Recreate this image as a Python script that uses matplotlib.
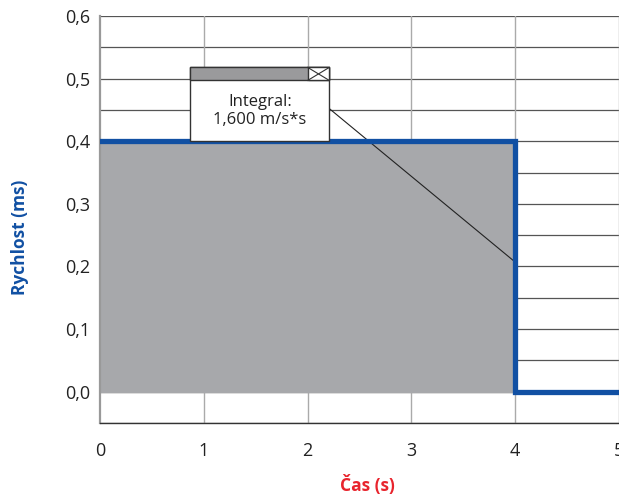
import numpy as np
import matplotlib.pyplot as plt
from matplotlib.patches import Rectangle

# data
cas = [0, 4, 4, 5]
rychlost = [0.4, 0.4, 0.0, 0.0]
plocha_x = [0, 4]
plocha_y = [0.4, 0.4]
x_ticks = [0, 1, 2, 3, 4, 5]
y_ticks = [0.0, 0.1, 0.2, 0.3, 0.4, 0.5, 0.6]
y_labels = ['0,0', '0,1', '0,2', '0,3', '0,4', '0,5', '0,6']
integral_text = 'Integral:\n1,600 m/s*s'

plt.rcParams['font.family'] = ['Open Sans', 'DejaVu Sans']

fig = plt.figure(figsize=(6.19, 4.95), dpi=100)
ax = fig.add_axes([100 / 619, 72 / 495, 519 / 619, 407 / 495])

blue = '#1150a3'
gray = '#a7a8ab'

# mrizka
for y in np.arange(-0.05, 0.601, 0.05):
    ax.axhline(y, color='#555555', lw=0.9, zorder=0)
for x in x_ticks[1:]:
    ax.axvline(x, color='#aaaaaa', lw=1.0, zorder=0)

ax.fill_between(plocha_x, 0, plocha_y, color=gray, zorder=1)
ax.plot(cas, rychlost, color=blue, lw=3.8, solid_joinstyle='miter', zorder=3)

# popisek s integralem
bx0, bx1, by0, by1 = 0.87, 2.21, 0.40, 0.518
ax.add_patch(Rectangle((bx0, by0), bx1 - bx0, by1 - by0, facecolor='white',
                       edgecolor='#333333', lw=1.0, zorder=4))
ax.add_patch(Rectangle((bx0, 0.497), bx1 - bx0, by1 - 0.497, facecolor='#9a9a9c',
                       edgecolor='#333333', lw=1.0, zorder=5))
ax.add_patch(Rectangle((2.0, 0.497), bx1 - 2.0, by1 - 0.497, facecolor='white',
                       edgecolor='#333333', lw=1.0, zorder=6))
ax.plot([2.0, bx1], [0.497, by1], color='#333333', lw=0.8, zorder=7)
ax.plot([2.0, bx1], [by1, 0.497], color='#333333', lw=0.8, zorder=7)
ax.text((bx0 + bx1) / 2, 0.448, integral_text, ha='center', va='center',
        fontsize=12, color='#222222', linespacing=1.2, zorder=7)
ax.plot([bx1, 4.0], [0.452, 0.207], color='#222222', lw=0.8, zorder=2)

ax.set_xlim(0, 5)
ax.set_ylim(-0.05, 0.6)
ax.set_xticks(x_ticks)
ax.set_yticks(y_ticks)
ax.set_yticklabels(y_labels)
ax.tick_params(axis='both', length=0, labelsize=13, colors='#222222')
ax.tick_params(axis='x', pad=14)
ax.tick_params(axis='y', pad=7)

for s in ['top', 'right']:
    ax.spines[s].set_visible(False)
ax.spines['left'].set_color('#999999')
ax.spines['left'].set_linewidth(1.6)
ax.spines['bottom'].set_color('#333333')
ax.spines['bottom'].set_linewidth(1.0)

fig.text(367 / 619, 1 - 485 / 495, 'Čas (s)', color='#e8242d', fontweight='bold',
         fontsize=12.5, ha='center', va='center')
fig.text(20 / 619, 1 - 237 / 495, 'Rychlost (ms)', color=blue, fontweight='bold',
         fontsize=12.5, ha='center', va='center', rotation=90)

fig.savefig('out.png', dpi=100)
